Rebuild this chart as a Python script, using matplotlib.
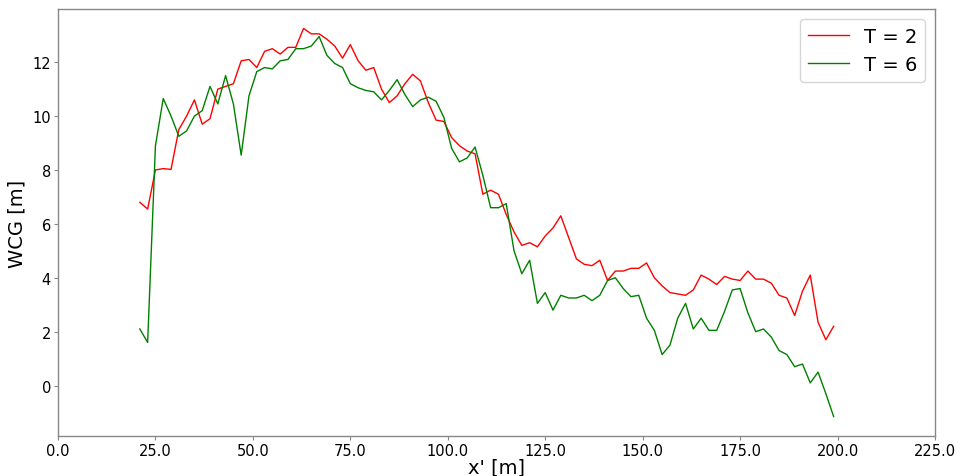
import matplotlib
matplotlib.use("Agg")
import matplotlib.pyplot as plt
from matplotlib.ticker import FormatStrFormatter, MultipleLocator

x = list(range(21, 200, 2))

wcg_t2 = [6.8, 6.55, 8.0, 8.05, 8.02, 9.5, 10.0, 10.6, 9.7, 9.9,
          11.0, 11.1, 11.2, 12.05, 12.1, 11.8, 12.4, 12.5, 12.3, 12.55,
          12.55, 13.25, 13.05, 13.05, 12.85, 12.6, 12.15, 12.65, 12.05, 11.7,
          11.8, 11.0, 10.5, 10.75, 11.2, 11.55, 11.3, 10.5, 9.85, 9.8,
          9.2, 8.9, 8.7, 8.6, 7.1, 7.25, 7.1, 6.35, 5.7, 5.2,
          5.3, 5.15, 5.55, 5.85, 6.3, 5.5, 4.7, 4.5, 4.45, 4.65,
          3.9, 4.25, 4.25, 4.35, 4.35, 4.55, 4.0, 3.7, 3.45, 3.4,
          3.35, 3.55, 4.1, 3.95, 3.75, 4.05, 3.95, 3.9, 4.25, 3.95,
          3.95, 3.8, 3.35, 3.25, 2.6, 3.5, 4.1, 2.35, 1.7, 2.2]

wcg_t6 = [2.1, 1.6, 8.9, 10.65, 10.0, 9.25, 9.45, 10.0, 10.2, 11.1,
          10.45, 11.5, 10.45, 8.55, 10.75, 11.65, 11.8, 11.75, 12.05, 12.1,
          12.5, 12.5, 12.6, 12.95, 12.25, 11.95, 11.8, 11.2, 11.05, 10.95,
          10.9, 10.6, 10.95, 11.35, 10.8, 10.35, 10.6, 10.7, 10.55, 9.95,
          8.8, 8.3, 8.45, 8.85, 7.8, 6.6, 6.6, 6.75, 5.0, 4.15,
          4.65, 3.05, 3.45, 2.8, 3.35, 3.25, 3.25, 3.35, 3.15, 3.35,
          3.9, 4.0, 3.6, 3.3, 3.35, 2.5, 2.05, 1.15, 1.5, 2.5,
          3.05, 2.1, 2.5, 2.05, 2.05, 2.75, 3.55, 3.6, 2.7, 2.0,
          2.1, 1.8, 1.3, 1.15, 0.7, 0.8, 0.1, 0.5, -0.3, -1.15]

fig = plt.figure(figsize=(9.57, 4.77), dpi=100)
ax = fig.add_axes([0.0606, 0.0839, 0.9164, 0.895])
ax.plot(x, wcg_t2, color="red", lw=1.0, label="T = 2")
ax.plot(x, wcg_t6, color="green", lw=1.0, label="T = 6")
ax.set_xlim(0, 225)
ax.xaxis.set_major_locator(MultipleLocator(25))
ax.xaxis.set_major_formatter(FormatStrFormatter("%.1f"))
for s in ax.spines.values():
    s.set_color("#888888")
    s.set_linewidth(1.0)
ax.tick_params(labelsize=10.5, length=3, pad=2, color="#888888")
ax.set_xlabel("x' [m]", fontsize=14, labelpad=0)
ax.set_ylabel("WCG [m]", fontsize=14, labelpad=4)
ax.legend(fontsize=14, loc="upper right", handlelength=2.1)
fig.savefig("out.png", dpi=100)
